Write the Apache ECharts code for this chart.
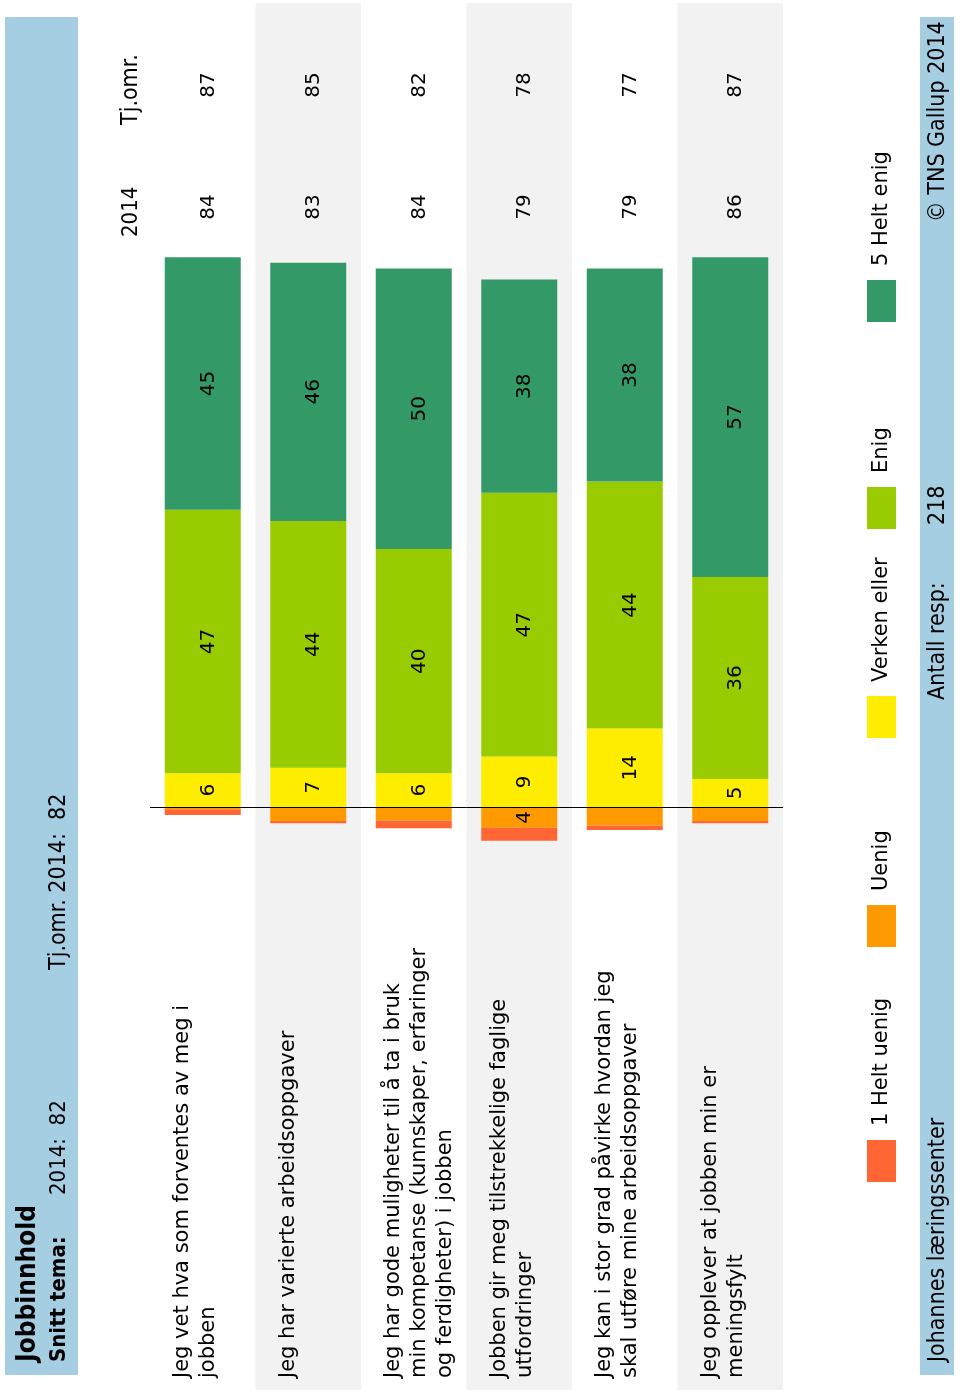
<!DOCTYPE html>
<html><head><meta charset="utf-8">
<script src="https://cdn.jsdelivr.net/npm/echarts@6/dist/echarts.min.js"></script>
<style>html,body{margin:0;padding:0;background:#fff}#c{width:960px;height:1393px}</style>
</head><body><div id="c"></div>
<script>
// ---- data ----
const categories = [
  'Jeg vet hva som forventes av meg i\njobben',
  'Jeg har varierte arbeidsoppgaver',
  'Jeg har gode muligheter til å ta i bruk\nmin kompetanse (kunnskaper, erfaringer\nog ferdigheter) i jobben',
  'Jobben gir meg tilstrekkelige faglige\nutfordringer',
  'Jeg kan i stor grad påvirke hvordan jeg\nskal utføre mine arbeidsoppgaver',
  'Jeg opplever at jobben min er\nmeningsfylt'
];
const heltUenig = [1.0, 0.4, 1.4, 2.3, 0.8, 0.4];
const uenig = [0.4, 2.5, 2.4, 3.7, 3.3, 2.5];
const verkenEller = [6, 7, 6, 9, 14, 5];
const enig = [47, 44, 40, 47, 44, 36];
const heltEnigVals = [45, 46, 50, 38, 38, 57];
const score2014 = [84, 83, 84, 79, 79, 86];
const scoreTj = [87, 85, 82, 78, 77, 87];
const legendNames = ['1 Helt uenig', 'Uenig', 'Verken eller', 'Enig', '5 Helt enig'];
const colors = ['#FF6633', '#FF9900', '#FFED00', '#99CC00', '#339966'];
const headerTitle = 'Jobbinnhold';
const snittLabel = 'Snitt tema:';
const snitt2014 = '2014:  82';
const snittTj = 'Tj.omr. 2014:  82';
const colHead2014 = '2014';
const colHeadTj = 'Tj.omr.';
const footerLeft = 'Johannes læringssenter';
const footerResp = 'Antall resp:';
const footerRespN = '218';
const footerCopy = '© TNS Gallup 2014';

// ---- chart ----
const SANS = 'DejaVu Sans';
const COND = 'DejaVu Sans Condensed';
const ROT = Math.PI / 2;

function rtext(text, x, y, size, extra) {
  return Object.assign({
    type: 'text', x: x, y: y, rotation: ROT, silent: true,
    style: Object.assign({ text: text, fontSize: size, fontFamily: COND, fill: '#000', align: 'left', verticalAlign: 'middle' }, (extra && extra.style) || {})
  }, (extra && extra.el) || {});
}

const graphics = [
  { type: 'rect', silent: true, shape: { x: 5, y: 17, width: 73, height: 1358 }, style: { fill: '#A6CEE3' }, z: -10 },
  { type: 'rect', silent: true, shape: { x: 920, y: 17, width: 34, height: 1358 }, style: { fill: '#A6CEE3' }, z: -10 },
  rtext(headerTitle, 28, 1362, 26, { style: { fontWeight: 'bold' } }),
  rtext(snittLabel, 59, 1362, 22, { style: { fontWeight: 'bold' } }),
  rtext(snitt2014, 59, 1195, 22),
  rtext(snittTj, 59, 970, 23),
  rtext(colHead2014, 131, 237, 22),
  rtext(colHeadTj, 131, 125, 23),
  rtext(footerLeft, 938, 1362, 23),
  rtext(footerResp, 938, 700, 23),
  rtext(footerRespN, 938, 525, 23),
  rtext(footerCopy, 938, 222, 23)
];
// legend (manual, rotated)
const legendSwatchY = [1140, 905, 696, 487, 280];
legendNames.forEach(function (n, i) {
  graphics.push({ type: 'rect', silent: true, shape: { x: 867, y: legendSwatchY[i], width: 29, height: 42 }, style: { fill: colors[i] } });
  graphics.push(rtext(n, 882, legendSwatchY[i] - 14, 21, { style: { fontFamily: SANS } }));
});

function labelFmt(p) {
  const v = Math.abs(p.value);
  return v >= 3.5 ? String(Math.round(v)) : '';
}

const barDefs = [
  { name: 'Uenig', data: uenig.map(function (v) { return -v; }), color: colors[1] },
  { name: '1 Helt uenig', data: heltUenig.map(function (v) { return -v; }), color: colors[0] },
  { name: 'Verken eller', data: verkenEller, color: colors[2] },
  { name: 'Enig', data: enig, color: colors[3] },
  { name: '5 Helt enig', data: heltEnigVals, color: colors[4] }
];

const series = barDefs.map(function (d, k) {
  const s = {
    type: 'bar', name: d.name, stack: 'total', barWidth: 76, data: d.data,
    itemStyle: { color: d.color },
    label: { show: true, position: 'inside', rotate: 90, offset: [0, 6], fontSize: 20, fontFamily: SANS, color: '#000', formatter: labelFmt },
    emphasis: { disabled: true }
  };
  if (k === 0) {
    s.markLine = { silent: true, symbol: 'none', label: { show: false }, lineStyle: { color: '#000', width: 1, type: 'solid' }, data: [{ yAxis: 0 }], z: 10 };
  }
  return s;
});

series.push({
  type: 'custom', name: 'texts', silent: true,
  data: categories.map(function (c, i) { return [i, score2014[i], scoreTj[i]]; }),
  encode: { x: 0, y: 1 },
  renderItem: function (params, api) {
    const i = api.value(0);
    const cx = api.coord([i, 0])[0];
    const bw = api.size([1, 0])[0];
    const cs = params.coordSys;
    const bottom = cs.y + cs.height;
    return {
      type: 'group', children: [
        { type: 'text', x: cx - bw / 2 + 20, y: bottom - 12, rotation: ROT,
          style: { text: categories[i], fontSize: 21, fontFamily: SANS, lineHeight: 26, fill: '#000', align: 'left', verticalAlign: 'top' } },
        { type: 'text', x: cx + 6, y: cs.y + 204, rotation: ROT,
          style: { text: String(api.value(1)), fontSize: 20, fontFamily: SANS, fill: '#000', align: 'center', verticalAlign: 'middle' } },
        { type: 'text', x: cx + 6, y: cs.y + 82, rotation: ROT,
          style: { text: String(api.value(2)), fontSize: 20, fontFamily: SANS, fill: '#000', align: 'center', verticalAlign: 'middle' } }
      ]
    };
  }
});

const chart = echarts.init(document.getElementById('c'));
chart.setOption({
  animation: false,
  backgroundColor: '#fff',
  grid: { left: 150, right: 177, top: 3, bottom: 3, containLabel: false, outerBoundsMode: 'none' },
  xAxis: {
    type: 'category', data: categories,
    axisLine: { show: false }, axisTick: { show: false }, axisLabel: { show: false, interval: 0 },
    splitLine: { show: false },
    splitArea: { show: true, interval: 0, areaStyle: { color: ['#FFFFFF', '#F2F2F2'] } }
  },
  yAxis: { type: 'value', min: -103.9, max: 143.3, show: false, splitLine: { show: false } },
  tooltip: { show: false },
  graphic: graphics,
  series: series
});
</script>
</body></html>
